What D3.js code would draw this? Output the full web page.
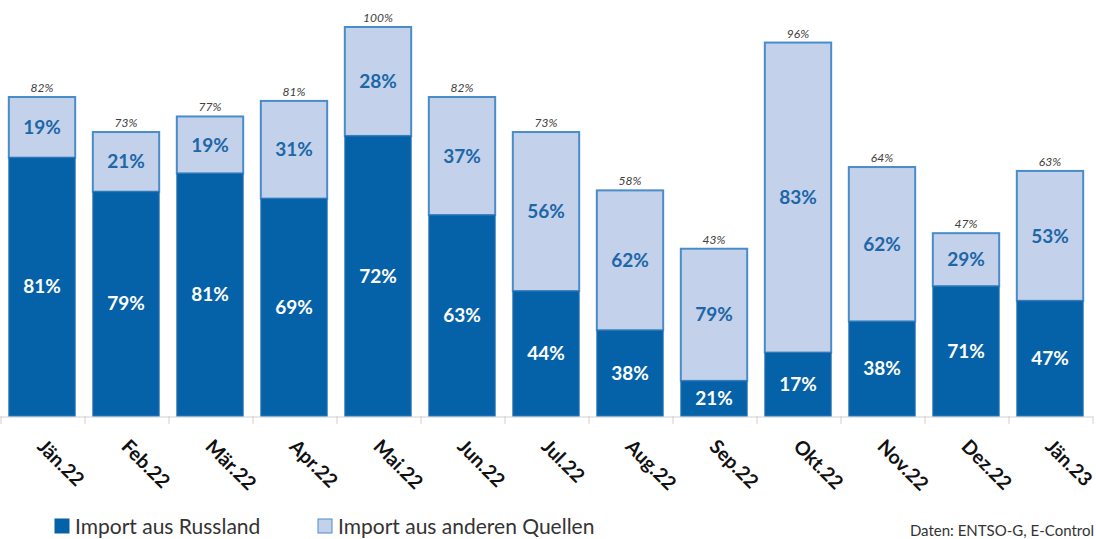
<!DOCTYPE html>
<html><head><meta charset="utf-8">
<script src="https://cdn.jsdelivr.net/npm/d3@7"></script>
<style>body{margin:0;background:#fff}svg{display:block}</style>
</head><body>
<svg id="c" width="1096" height="539"></svg>
<script>
const categories = ["Jän.22","Feb.22","Mär.22","Apr.22","Mai.22","Jun.22","Jul.22","Aug.22","Sep.22","Okt.22","Nov.22","Dez.22","Jän.23"];
const totals = [82,73,77,81,100,82,73,58,43,96,64,47,63];
const russiaShare = [81,79,81,69,72,63,44,38,21,17,38,71,47];
const otherShare = [19,21,19,31,28,37,56,62,79,83,62,29,53];
const seriesNames = ["Import aus Russland","Import aus anderen Quellen"];
const source = "Daten: ENTSO-G, E-Control";

const svg = d3.select("#c");
const font = "Lato, 'Open Sans', sans-serif";
const dark = "#0562a8", light = "#c3d2ea", edge = "#4a8cc8";

const x = d3.scaleBand().domain(categories).range([0, 1092]).paddingInner(0.21).paddingOuter(0.105);
const y = d3.scaleLinear().domain([0, 100]).range([416, 27]);

const data = categories.map((c, i) => {
  const r = totals[i] * russiaShare[i] / 100;
  return {c, total: totals[i], rs: russiaShare[i], os: otherShare[i], r};
});

// axis
const axis = d3.axisBottom(x).tickSize(0).tickFormat("");
const gx = svg.append("g").attr("transform", "translate(0,416.5)").call(axis);
gx.select(".domain").attr("stroke", "#d0d0d0");
const step = x.step();
svg.append("g").selectAll("line").data(d3.range(categories.length + 1)).join("line")
  .attr("x1", i => 1 + i * step).attr("x2", i => 1 + i * step)
  .attr("y1", 416).attr("y2", 424).attr("stroke", "#d0d0d0");

const g = svg.append("g");
// others (top)
g.selectAll("rect.o").data(data).join("rect").attr("class", "o")
  .attr("x", d => x(d.c)).attr("width", x.bandwidth())
  .attr("y", d => y(d.total)).attr("height", d => y(d.r) - y(d.total))
  .attr("fill", light).attr("stroke", edge).attr("stroke-width", 2);
// russia (bottom)
g.selectAll("rect.r").data(data).join("rect").attr("class", "r")
  .attr("x", d => x(d.c)).attr("width", x.bandwidth())
  .attr("y", d => y(d.r)).attr("height", d => y(0) - y(d.r))
  .attr("fill", dark).attr("stroke", "#2f78b8").attr("stroke-width", 1);

// labels
g.selectAll("text.rl").data(data).join("text")
  .attr("x", d => x(d.c) + x.bandwidth() / 2)
  .attr("y", d => (y(d.r) + y(0)) / 2).attr("dy", "0.35em")
  .attr("text-anchor", "middle").attr("fill", "#fff")
  .attr("font-family", font).attr("font-weight", "bold").attr("font-size", 19)
  .text(d => d.rs + "%");
g.selectAll("text.ol").data(data).join("text")
  .attr("x", d => x(d.c) + x.bandwidth() / 2)
  .attr("y", d => (y(d.r) + y(d.total)) / 2).attr("dy", "0.35em")
  .attr("text-anchor", "middle").attr("fill", "#1d66a8")
  .attr("font-family", font).attr("font-weight", "bold").attr("font-size", 19)
  .text(d => d.os + "%");
g.selectAll("text.tl").data(data).join("text")
  .attr("x", d => x(d.c) + x.bandwidth() / 2)
  .attr("y", d => y(d.total) - 5)
  .attr("text-anchor", "middle").attr("fill", "#404040")
  .attr("font-family", font).attr("font-style", "italic").attr("font-size", 12)
  .text(d => d.total + "%");

// category labels
svg.append("g").selectAll("text").data(categories).join("text")
  .attr("transform", c => `translate(${x(c) + x.bandwidth() / 2 - 1},${443}) rotate(45)`)
  .attr("text-anchor", "start").attr("dy", "0.35em")
  .attr("font-family", font).attr("font-weight", "bold").attr("font-size", 19.5).attr("fill", "#111")
  .text(c => c);

// legend
const leg = svg.append("g").attr("font-family", font).attr("font-size", 21).attr("fill", "#333");
const legX = [55, 318];
[dark, light].forEach((col, i) => {
  leg.append("rect").attr("x", legX[i]).attr("y", 519).attr("width", 14).attr("height", 14)
    .attr("fill", col).attr("stroke", i ? edge : dark).attr("stroke-width", 1);
  leg.append("text").attr("x", legX[i] + 20).attr("y", 534).attr("fill", "#333").text(seriesNames[i]);
});
svg.append("text").attr("x", 1094).attr("y", 536).attr("text-anchor", "end")
  .attr("font-family", font).attr("font-size", 15)
  .attr("fill", "#333").text(source);
</script>
</body></html>
